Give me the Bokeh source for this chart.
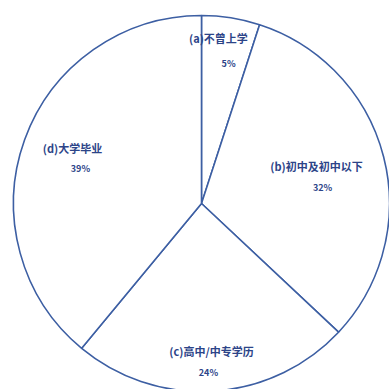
import math
from bokeh.plotting import figure
from bokeh.models import ColumnDataSource, Range1d
from bokeh.core.properties import value
from bokeh.embed import file_html
from bokeh.resources import INLINE

# data
categories = ["(a)不曾上学", "(b)初中及初中以下", "(c)高中/中专学历", "(d)大学毕业"]
percents = [5, 32, 24, 39]

# layout: label anchor positions (in pie-radius units)
name_pos = [(0.09, 0.878), (0.612, 0.202), (0.053, -0.782), (-0.686, 0.293)]
pct_pos = [(0.144, 0.745), (0.644, 0.085), (0.037, -0.899), (-0.644, 0.186)]

total = sum(percents)
starts, ends = [], []
acc = 0.0
for v in percents:
    a0 = math.pi / 2 - 2 * math.pi * acc / total
    acc += v
    a1 = math.pi / 2 - 2 * math.pi * acc / total
    starts.append(a0)
    ends.append(a1)

src = ColumnDataSource(dict(start=starts, end=ends, cat=categories,
                            pct=[f"{v}%" for v in percents]))

W = H = 389
R = 188.0
cx, cy = 201.0, 203.0
p = figure(width=W, height=H, output_backend="svg", toolbar_location=None,
           x_range=Range1d(-cx / R, (W - cx) / R),
           y_range=Range1d(-(H - cy) / R, cy / R),
           min_border=0)
p.axis.visible = False
p.grid.visible = False
p.outline_line_color = None
p.background_fill_color = "white"
p.border_fill_color = "white"

line_col = "#3d5fa3"
text_col = "#2c4488"
p.wedge(x=0, y=0, radius=1.0, start_angle="start", end_angle="end",
        direction="clock", source=src, fill_color="white",
        line_color=line_col, line_width=1.6)

p.text(x=[q[0] for q in name_pos], y=[q[1] for q in name_pos], text=categories,
       text_align="center", text_baseline="middle", text_font_size="11px",
       text_font=value("Noto Sans CJK SC"), text_font_style="bold", text_color=text_col)
p.text(x=[q[0] for q in pct_pos], y=[q[1] for q in pct_pos],
       text=[f"{v}%" for v in percents],
       text_align="center", text_baseline="middle", text_font_size="9px",
       text_font=value("Noto Sans CJK SC"), text_font_style="bold", text_color=text_col)

open("out.html", "w").write(file_html(p, INLINE))
